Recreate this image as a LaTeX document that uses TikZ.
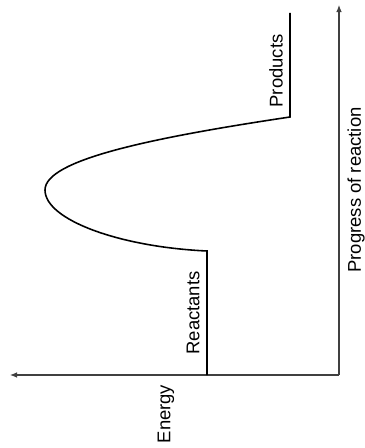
\documentclass[tikz,border=0pt]{standalone}
\usepackage{fontspec}
\setmainfont{Liberation Sans}
\usepackage{tikz}
\usetikzlibrary{arrows.meta}
\tikzset{
  axis/.style={draw=black!75, line width=0.6pt, -{Latex[length=4pt,width=3.2pt]}},
  level/.style={draw=black, line width=0.9pt},
  lbl/.style={rotate=90, inner sep=0pt, font=\fontsize{10.5}{12}\selectfont}}

\begin{document}
\begin{tikzpicture}[x=0.02cm, y=-0.02cm]
\useasboundingbox (0,0) rectangle (364,448);
\coordinate (o) at (339,375);
\coordinate (e) at (10,375);
\coordinate (p) at (339,5);
\coordinate (r0) at (207,375);
\coordinate (r1) at (207,251);
\coordinate (ts) at (45,190);
\coordinate (p0) at (290,117);
\coordinate (p1) at (290,13);
\draw [axis] (o) -- (e);
\draw [axis] (o) -- (p);
\draw [level] (r0) -- (r1) .. controls (120,247) and (45,220) .. (ts)
  .. controls (45,160) and (150,138) .. (p0) -- (p1);
\node [lbl] (energy) at (166,414) {Energy};
\node [lbl] (react) at (193,313) {Reactants};
\node [lbl] (prod) at (276,71) {Products};
\node [lbl] (progress) at (356,190) {Progress of reaction};
\end{tikzpicture}
\end{document}
